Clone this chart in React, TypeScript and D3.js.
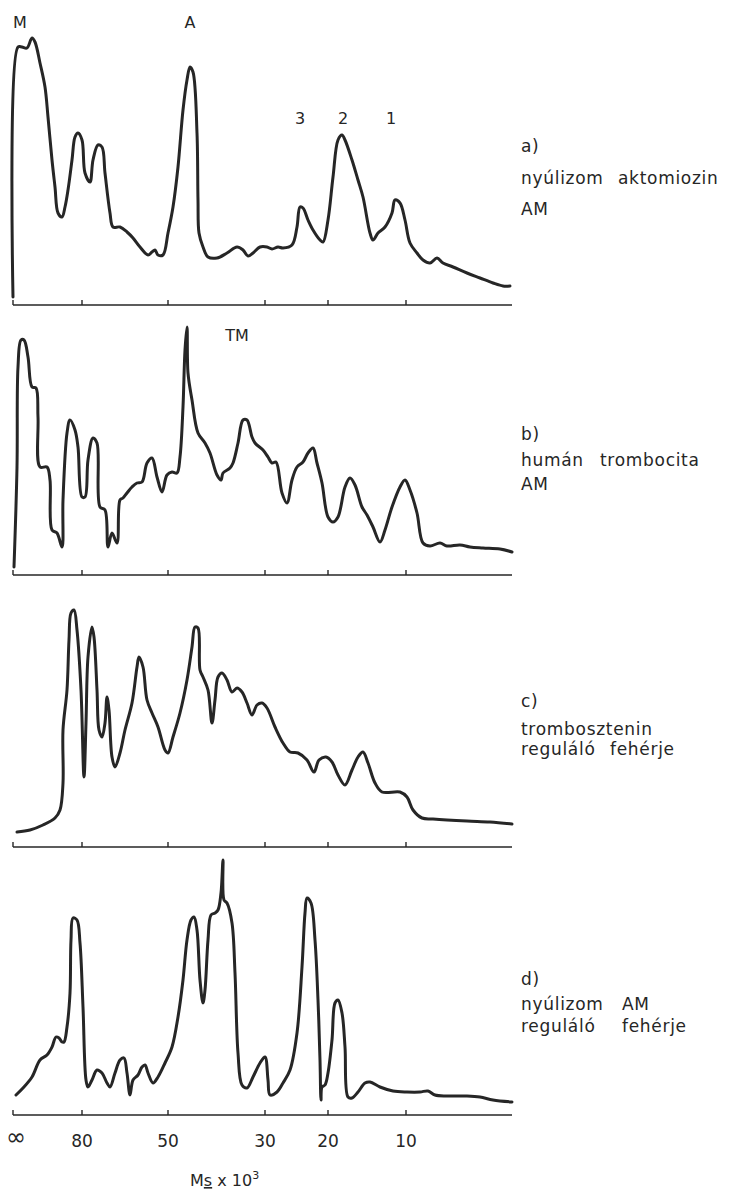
import React, { useRef, useEffect } from 'react';
import * as d3 from 'd3';

// densitometer scans: [migration distance (arb. units), absorbance (arb. units)]
const traceA = [
  [0, 8], [5, 258], [9, 258], [14, 257], [19, 267], [22, 263], [27, 242], [32, 218],
  [35, 188], [39, 145], [42, 118], [45, 92], [49, 88], [52, 98], [55, 115], [59, 145],
  [62, 168], [65, 172], [69, 165], [72, 132], [77, 123], [80, 145], [85, 160], [89, 158],
  [92, 132], [97, 92], [100, 78], [107, 78], [114, 73], [120, 67], [127, 58], [135, 50],
  [139, 53], [142, 55], [145, 50], [150, 50], [155, 72], [160, 98], [165, 138], [170, 195],
  [174, 225], [177, 238], [180, 233], [184, 172], [185, 105], [186, 72], [190, 58],
  [195, 48], [204, 47], [214, 52], [224, 58], [230, 55], [235, 49], [240, 52], [247, 58],
  [254, 58], [259, 56], [265, 58], [270, 57], [279, 60], [284, 78], [287, 98], [290, 97],
  [295, 85], [300, 75], [307, 65], [310, 63], [315, 85], [320, 128], [325, 165], [329, 170],
  [332, 165], [339, 145], [345, 125], [350, 108], [357, 72], [360, 65], [365, 72],
  [372, 78], [379, 92], [382, 105], [387, 102], [392, 85], [397, 62], [404, 52], [410, 45],
  [417, 42], [424, 47], [430, 42], [440, 38], [454, 32], [467, 27], [480, 22], [490, 19],
  [497, 19],
];

const traceB = [
  [1, 8], [4, 108], [5, 208], [8, 235], [11, 235], [15, 218], [19, 188], [23, 187],
  [25, 158], [27, 108], [34, 108], [37, 95], [39, 45], [44, 42], [49, 28], [50, 75],
  [54, 142], [57, 155], [62, 145], [65, 128], [69, 78], [72, 78], [75, 115], [80, 137],
  [84, 132], [87, 68], [92, 65], [95, 28], [99, 42], [104, 32], [107, 75], [110, 77],
  [114, 82], [119, 88], [124, 92], [129, 93], [134, 112], [139, 117], [144, 98], [149, 83],
  [154, 100], [159, 103], [164, 102], [167, 118], [170, 168], [172, 225], [174, 248],
  [175, 202], [179, 175], [185, 142], [192, 132], [197, 122], [204, 100], [208, 95],
  [210, 102], [217, 107], [220, 112], [225, 132], [230, 155], [234, 155], [239, 138],
  [242, 132], [250, 125], [255, 118], [259, 112], [263, 113], [269, 82], [274, 72],
  [279, 95], [284, 108], [290, 113], [295, 122], [300, 127], [304, 112], [309, 92],
  [315, 58], [320, 53], [325, 58], [332, 88], [337, 97], [342, 90], [349, 68], [354, 60],
  [360, 48], [367, 33], [372, 45], [379, 68], [387, 88], [392, 95], [397, 85], [404, 62],
  [410, 32], [417, 29], [427, 32], [434, 29], [447, 30], [457, 28], [470, 27], [487, 26],
  [499, 23],
];

const traceC = [
  [4, 15], [17, 17], [30, 22], [42, 29], [47, 37], [50, 64], [50, 117], [54, 157],
  [56, 207], [58, 234], [61, 237], [64, 217], [68, 157], [71, 70], [73, 124], [75, 190],
  [79, 220], [81, 210], [84, 157], [86, 117], [89, 110], [92, 124], [94, 150], [96, 137],
  [99, 90], [102, 80], [107, 94], [112, 117], [119, 144], [124, 180], [126, 190],
  [130, 180], [134, 147], [139, 134], [145, 120], [152, 97], [155, 94], [160, 110],
  [167, 134], [174, 167], [179, 200], [182, 220], [185, 219], [187, 177], [190, 170],
  [195, 157], [199, 124], [202, 147], [205, 170], [209, 174], [214, 167], [219, 155],
  [224, 159], [229, 155], [234, 144], [239, 132], [244, 142], [249, 144], [254, 139],
  [262, 120], [270, 104], [277, 95], [285, 94], [294, 87], [301, 75], [306, 87],
  [313, 90], [319, 85], [325, 72], [332, 62], [339, 77], [345, 90], [350, 95], [355, 84],
  [362, 64], [369, 55], [387, 55], [394, 50], [400, 37], [409, 29], [420, 28], [454, 26],
  [477, 25], [499, 23],
];

const traceD = [
  [3, 20], [10, 27], [19, 38], [27, 55], [34, 60], [39, 68], [43, 78], [46, 77],
  [49, 73], [51, 73], [54, 88], [57, 122], [58, 175], [60, 197], [64, 195], [67, 172],
  [70, 108], [73, 35], [75, 28], [79, 35], [84, 45], [89, 42], [94, 32], [97, 28],
  [102, 42], [107, 55], [111, 57], [114, 42], [117, 20], [120, 35], [125, 40], [129, 48],
  [132, 50], [135, 42], [140, 32], [145, 38], [152, 52], [159, 68], [165, 98], [170, 135],
  [174, 175], [178, 195], [181, 198], [184, 185], [187, 135], [190, 112], [192, 125],
  [195, 175], [198, 200], [202, 202], [205, 205], [208, 222], [210, 255], [211, 215],
  [214, 212], [219, 192], [222, 142], [225, 62], [229, 30], [234, 27], [240, 38],
  [247, 52], [252, 58], [255, 35], [257, 20], [264, 23], [270, 32], [277, 45], [284, 82],
  [289, 148], [292, 202], [294, 217], [298, 212], [302, 175], [305, 115], [307, 55],
  [308, 15], [309, 28], [312, 30], [315, 42], [319, 75], [322, 112], [325, 115],
  [329, 102], [332, 68], [335, 18], [339, 17], [345, 23], [352, 32], [357, 33], [367, 28],
  [380, 24], [394, 23], [407, 23], [415, 24], [422, 20], [434, 19], [454, 19], [467, 18],
  [480, 15], [499, 13],
];

// molecular mass scale (x 10^3) and where it falls on the gel
const tickLabels = ['∞', '80', '50', '30', '20', '10'];
const tickDistances = [0, 69, 155, 252, 315, 393];

const panelLetters = ['a)', 'b)', 'c)', 'd)'];
const panelTitles = [
  [['nyúlizom', 'aktomiozin'], ['AM']],
  [['humán', 'trombocita'], ['AM']],
  [['trombosztenin'], ['reguláló', 'fehérje']],
  [['nyúlizom', 'AM'], ['reguláló', 'fehérje']],
];

// band names: [panel, label, distance]
const bandLabels = [
  [0, 'M', 7], [0, 'A', 177], [0, '3', 287], [0, '2', 330], [0, '1', 378], [1, 'TM', 224],
];

const WIDTH = 730;
const HEIGHT = 1198;
const AXIS_Y = [305, 575, 847, 1115];
const PANEL_H = 280;
const INK = '#262626';
const FONT = '"DejaVu Sans", sans-serif';
// caption layout: y of letter, line1, line2 and x of the second words
const TITLE_LAYOUT = [
  { y: [152, 184, 215], x2: [618, 0] },
  { y: [440, 466, 490], x2: [600, 0] },
  { y: [707, 735, 755], x2: [0, 610] },
  { y: [985, 1010, 1032], x2: [622, 622] },
];
const bandLabelY = (panel, label) =>
  panel === 1 ? 341 : label === 'M' || label === 'A' ? 28 : 124;

const App = () => {
  const svgRef = useRef(null);

  useEffect(() => {
    const svg = d3.select(svgRef.current);
    svg.selectAll('*').remove();

    const x = d3.scaleLinear().domain([0, 499]).range([13, 512]);
    const traces = [traceA, traceB, traceC, traceD];

    traces.forEach((trace, i) => {
      const y = d3
        .scaleLinear()
        .domain([0, PANEL_H])
        .range([AXIS_Y[i], AXIS_Y[i] - PANEL_H]);
      const g = svg.append('g');

      // baseline with upward ticks
      g.append('line')
        .attr('x1', x(0))
        .attr('x2', x(499))
        .attr('y1', y(0))
        .attr('y2', y(0))
        .attr('stroke', INK)
        .attr('stroke-width', 1.4);
      g.selectAll('.tick')
        .data(tickDistances)
        .enter()
        .append('line')
        .attr('x1', (d) => x(d))
        .attr('x2', (d) => x(d))
        .attr('y1', y(0))
        .attr('y2', y(5))
        .attr('stroke', INK)
        .attr('stroke-width', 1.4);

      const line = d3
        .line()
        .x((d) => x(d[0]))
        .y((d) => y(d[1]))
        .curve(d3.curveCatmullRom.alpha(0.5));
      g.append('path')
        .attr('d', line(trace))
        .attr('fill', 'none')
        .attr('stroke', INK)
        .attr('stroke-width', 3)
        .attr('stroke-linejoin', 'round')
        .attr('stroke-linecap', 'round');

      // caption on the right
      const lay = TITLE_LAYOUT[i];
      const cap = g
        .append('g')
        .attr('font-family', FONT)
        .attr('font-size', 17)
        .attr('letter-spacing', 0.7)
        .attr('fill', INK);
      cap.append('text').attr('x', 521).attr('y', lay.y[0]).text(panelLetters[i]);
      panelTitles[i].forEach((words, li) => {
        words.forEach((w, wi) => {
          cap
            .append('text')
            .attr('x', wi === 0 ? 521 : lay.x2[li])
            .attr('y', lay.y[li + 1])
            .text(w);
        });
      });

      bandLabels
        .filter((b) => b[0] === i)
        .forEach((b) => {
          g.append('text')
            .attr('x', x(b[2]))
            .attr('y', bandLabelY(i, b[1]))
            .attr('text-anchor', 'middle')
            .attr('font-family', FONT)
            .attr('font-size', 16)
            .attr('fill', INK)
            .text(b[1]);
        });
    });

    // mass scale under the last panel
    svg
      .selectAll('.mlabel')
      .data(tickLabels)
      .enter()
      .append('text')
      .attr('x', (d, j) => (j === 0 ? x(tickDistances[j]) + 3 : x(tickDistances[j])))
      .attr('y', (d, j) => (j === 0 ? 1145 : 1147))
      .attr('text-anchor', 'middle')
      .attr('font-family', FONT)
      .attr('font-size', (d, j) => (j === 0 ? 24 : 17))
      .attr('fill', INK)
      .text((d) => d);

    const unit = svg
      .append('text')
      .attr('x', 190)
      .attr('y', 1186)
      .attr('font-family', FONT)
      .attr('font-size', 16)
      .attr('fill', INK);
    unit.append('tspan').text('M');
    unit.append('tspan').attr('text-decoration', 'underline').text('s');
    unit.append('tspan').text(' x 10');
    unit.append('tspan').attr('dy', -7).attr('font-size', 11).text('3');
  }, []);

  return (
    <svg
      ref={svgRef}
      width={WIDTH}
      height={HEIGHT}
      style={{ position: 'absolute', left: 0, top: 0, background: '#fff' }}
    ></svg>
  );
};

export default App;
